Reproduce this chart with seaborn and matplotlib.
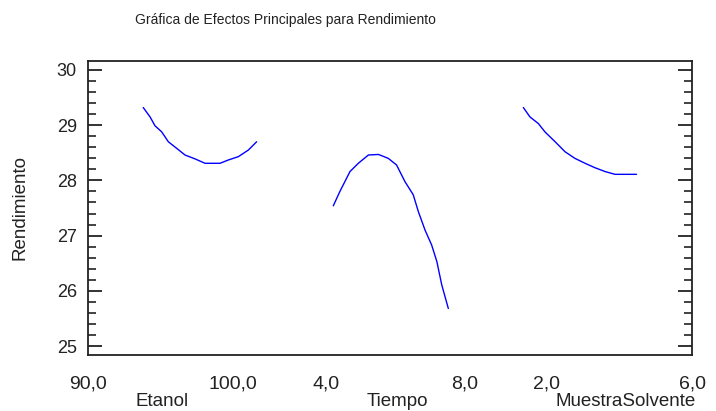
import numpy as np
import pandas as pd
import matplotlib
matplotlib.use("Agg")
import matplotlib.pyplot as plt
import seaborn as sns
from matplotlib.ticker import MultipleLocator

# ---- data ----
etanol_x = [93.81, 94.28, 94.62, 95.08, 95.54, 96.12, 96.69, 97.38, 98.07, 99.10,
            99.68, 100.37, 101.06, 101.63]
etanol_y = [29.32, 29.15, 28.99, 28.88, 28.70, 28.58, 28.46, 28.39, 28.31, 28.31,
            28.37, 28.43, 28.55, 28.70]

tiempo_x = [4.21, 4.40, 4.69, 4.93, 5.22, 5.51, 5.79, 6.03, 6.27, 6.51, 6.66, 6.85,
            7.04, 7.19, 7.33, 7.52]
tiempo_y = [27.54, 27.80, 28.16, 28.31, 28.46, 28.47, 28.40, 28.28, 27.98, 27.74,
            27.43, 27.10, 26.83, 26.53, 26.11, 25.68]

muestra_x = [1.38, 1.56, 1.79, 1.97, 2.25, 2.52, 2.79, 3.07, 3.34, 3.62, 3.89, 4.48]
muestra_y = [29.32, 29.15, 29.03, 28.88, 28.70, 28.52, 28.40, 28.31, 28.23, 28.16,
             28.11, 28.11]

factor_names = ["Etanol", "Tiempo", "MuestraSolvente"]
etanol_ticks = [90.0, 100.0]
tiempo_ticks = [4.0, 8.0]
muestra_ticks = [2.0, 6.0]
y_ticks = [25, 26, 27, 28, 29, 30]

title = "Gráfica de Efectos Principales para Rendimiento"
ylabel = "Rendimiento"

# ---- style ----
sns.set_style("white")
plt.rcParams["font.family"] = ["Liberation Sans", "DejaVu Sans"]

W, H = 716, 411
fig = plt.figure(figsize=(W / 100, H / 100), dpi=100)

left_px, right_px, top_px, bot_px = 88, 692, 61, 355
ylim = (24.837, 30.163)
dark = "#222222"

# frame axes (spines + y ticks)
axf = fig.add_axes([left_px / W, 1 - bot_px / H, (right_px - left_px) / W, (bot_px - top_px) / H])
axf.set_facecolor("white")
axf.set_ylim(*ylim)
axf.set_xticks([])
axf.set_yticks(y_ticks)
axf.set_yticklabels([str(v) for v in y_ticks])
axf.yaxis.set_minor_locator(MultipleLocator(0.2))
axf.tick_params(axis="y", which="major", direction="in", length=10, width=1.3,
                left=True, right=True, labelsize=13, labelcolor=dark, pad=8, color=dark)
axf.tick_params(axis="y", which="minor", direction="in", length=6, width=1.2,
                left=True, right=True, color=dark)
for s in axf.spines.values():
    s.set_visible(True)
    s.set_color(dark)
    s.set_linewidth(1.3)

b1, b2 = 289, 490
segs = [(left_px, b1), (b1, b2), (b2, right_px)]
xlims = [
    (90.0, 90.0 + (b1 - left_px) / 14.5),
    (4.0 - (326 - b1) / 34.75, 4.0 + (b2 - 326) / 34.75),
    (2.0 - (546 - b2) / 36.5, 6.0),
]
datas = [(etanol_x, etanol_y), (tiempo_x, tiempo_y), (muestra_x, muestra_y)]
ticks = [etanol_ticks, tiempo_ticks, muestra_ticks]

for (x0, x1), xl, (dx, dy), tk in zip(segs, xlims, datas, ticks):
    ax = fig.add_axes([x0 / W, 1 - bot_px / H, (x1 - x0) / W, (bot_px - top_px) / H])
    ax.set_facecolor("none")
    df = pd.DataFrame({"x": dx, "y": dy})
    sns.lineplot(data=df, x="x", y="y", ax=ax, color="#0000ff", lw=1.0)
    ax.set_xlim(*xl)
    ax.set_ylim(*ylim)
    ax.set_xlabel("")
    ax.set_ylabel("")
    ax.set_xticks(tk)
    ax.set_xticklabels([f"{v:.1f}".replace(".", ",") for v in tk], fontsize=14, color=dark)
    ax.tick_params(axis="x", length=0, pad=15)
    ax.set_yticks([])
    for s in ax.spines.values():
        s.set_visible(False)

fig.text(285 / W, 1 - 20 / H, title, ha="center", va="center", fontsize=10, color=dark)
fig.text(20 / W, 1 - 207 / H, ylabel, ha="center", va="center", rotation=90,
         fontsize=13.5, color=dark)
for name, cx in zip(factor_names, [162, 397, 626]):
    fig.text(cx / W, 1 - 401 / H, name, ha="center", va="center", fontsize=13.5, color=dark)

fig.savefig("out.png", dpi=100)
